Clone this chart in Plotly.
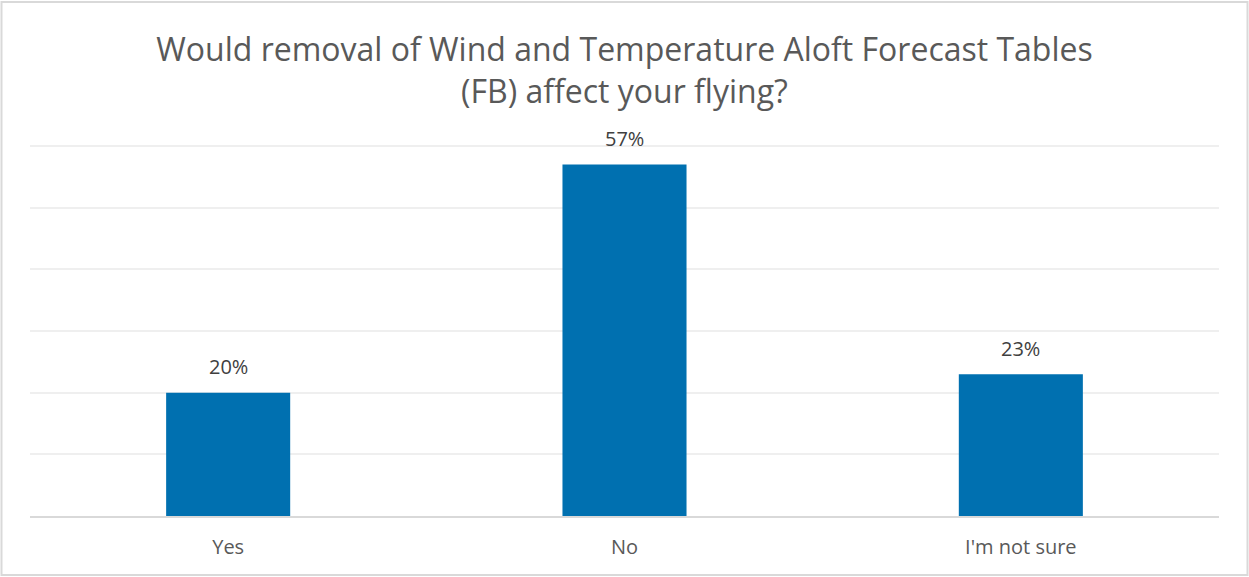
import plotly.graph_objects as go

# survey answers and share of respondents
answers = ["Yes", "No", "I'm not sure"]
shares = [0.20, 0.57, 0.23]

W, H = 1249, 577
ml, mr, mt, mb = 30, 30, 134, 61
ymax = 0.6 * (H - mb - mt) / (H - mb - 146)  # leaves room so the 60% gridline is drawn

fig = go.Figure()
fig.add_trace(go.Bar(
    x=answers, y=shares,
    marker=dict(color="#0070b0", line=dict(width=0)),
    width=0.313,
    hoverinfo="x+y",
))

# data labels a bit above each bar, like Excel
for a, s in zip(answers, shares):
    fig.add_annotation(x=a, y=s, text=f"{s:.0%}", showarrow=False,
                       yanchor="middle", yshift=26,
                       font=dict(family="Open Sans", size=20, color="#404040"))

# outer chart border
pw, ph = W - ml - mr, H - mt - mb
fig.add_shape(type="rect", xref="paper", yref="paper",
              x0=-(ml - 1.5) / pw, x1=1 + (mr - 1.5) / pw,
              y0=-(mb - 2) / ph, y1=1 + (mt - 2) / ph,
              line=dict(color="#d9d9d9", width=2), fillcolor="rgba(0,0,0,0)",
              layer="below")

fig.update_layout(
    width=W, height=H,
    margin=dict(l=ml, r=mr, t=mt, b=mb),
    paper_bgcolor="white", plot_bgcolor="white",
    title=dict(text="Would removal of Wind and Temperature Aloft Forecast Tables<br>(FB) affect your flying?",
               x=0.5, xanchor="center", y=1 - 61 / H, yanchor="middle", yref="container",
               font=dict(family="Open Sans", size=32, color="#595959")),
    showlegend=False,
    bargap=0.687,
)
fig.update_xaxes(showline=True, linecolor="#d9d9d9", linewidth=2, ticks="",
                 ticklabelstandoff=12,
                 tickfont=dict(family="Open Sans", size=20, color="#595959"),
                 showgrid=False)
fig.update_yaxes(range=[0, ymax], tick0=0, dtick=0.1, showticklabels=False, showgrid=True,
                 gridcolor="#efefef", gridwidth=1.5, zeroline=False, showline=False)

# drop the default 8px body margin so the figure sits at the window's corner
fig.write_html("out.html", config={"displayModeBar": False},
               post_script="document.body.style.margin='0';")
